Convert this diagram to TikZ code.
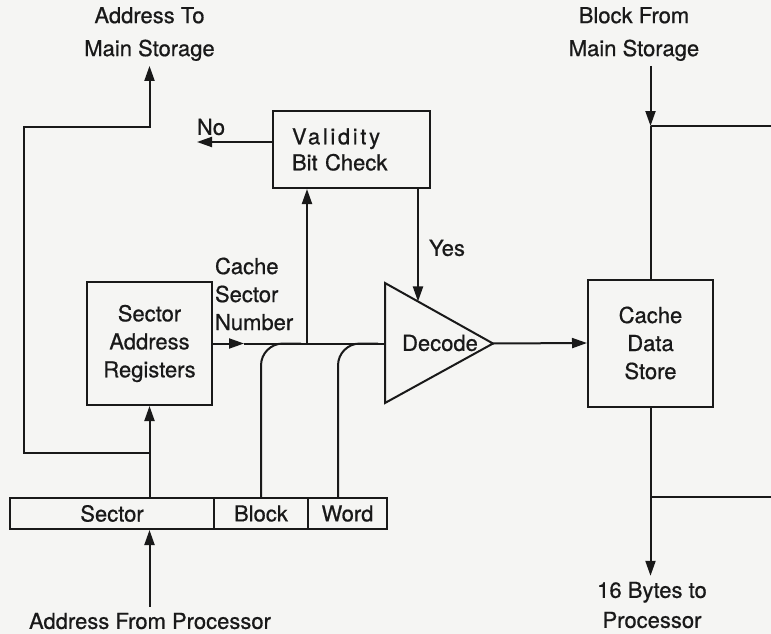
\documentclass[tikz,border=0pt]{standalone}
\usepackage{fontspec}
\setmainfont{TeX Gyre Heros}[FakeBold=0.7]
\usetikzlibrary{arrows.meta,calc}
\definecolor{paper}{RGB}{245,245,243}
\definecolor{ink}{RGB}{25,25,25}
\begin{document}
\begin{tikzpicture}[x=1pt,y=-1pt,line width=2pt,draw=ink,
  lab/.style={font=\fontsize{22}{28}\selectfont, inner sep=0pt, align=center, text=ink},
  blockbox/.style={lab, draw=ink, line width=2pt},
  arr/.style={-{Triangle[length=15pt,width=10pt]}}]
\fill[paper] (0,0) rectangle (771,634);
\useasboundingbox (0,0) rectangle (771,634);
% labels
\node[lab, font=\fontsize{22}{33}\selectfont] (addrTo) at (149.5,34) {Address To\\Main Storage};
\node[lab, font=\fontsize{22}{33}\selectfont] (blockFrom) at (634,34) {Block From\\Main Storage};
\node[lab] (no) at (211,127) {No};
\node[lab] (yes) at (447,248) {Yes};
\node[lab, align=left, anchor=west] (csn) at (214,294) {Cache\\Sector\\Number};
\node[lab] (addrFrom) at (150,621) {Address From Processor};
\node[lab, font=\fontsize{22}{30}\selectfont] (bytes) at (652,605) {16 Bytes to\\Processor};
% boxes
\node[blockbox, font=\fontsize{22}{26}\selectfont, minimum width=157pt, minimum height=77pt, text width=119pt, align=left] (valid) at (351.5,149.5) {{\addfontfeature{LetterSpace=12}Validity}\\Bit Check};
\node[blockbox, minimum width=125pt, minimum height=123pt] (sar) at (149.5,343.5) {Sector\\Address\\Registers};
\node[blockbox, minimum width=125pt, minimum height=127pt] (cds) at (650.5,343) {Cache\\Data\\Store};
\node[blockbox, minimum width=204pt, minimum height=31pt] (secF) at (112,513.5) {Sector};
\node[blockbox, minimum width=94pt, minimum height=31pt] (blkF) at (261,513.5) {Block};
\node[blockbox, minimum width=79pt, minimum height=31pt] (wrdF) at (347.5,513.5) {Word};
% decode triangle
\coordinate (decT) at (385,283);
\coordinate (decB) at (385,403);
\coordinate (decA) at (493,343.5);
\draw[line join=miter] (decT) -- (decA) -- (decB) -- cycle;
\node[lab] (dec) at (440,343) {Decode};
% connectors
\draw[arr] (secF.north -| sar.south) -- (sar.south);
\coordinate (lp1) at (149.5,453);
\coordinate (lp2) at (24,453);
\coordinate (lp3) at (24,127);
\draw[arr, shorten >=4pt] (lp1) -- (lp2) -- (lp3) -- (lp3 -| addrTo.south) -- (addrTo.south);
\coordinate (noEnd) at (197,142);
\draw[arr] (valid.west |- noEnd) -- (noEnd);
\coordinate (midArr) at (244,343.5);
\draw[arr] (sar.east) -- (midArr);
\draw (midArr) -- (sar.east -| decT);
\coordinate (vx) at (307,343.5);
\draw[arr] (vx) -- (vx |- valid.south);
\coordinate (yesEnd) at ($(decT)!0.3056!(decA)$);
\draw[arr] (yesEnd |- valid.south) -- (yesEnd);
\draw[rounded corners=22pt] (blkF.north) -- (blkF.north |- sar.east) -- ++(40,0);
\coordinate (wx) at (338,498);
\draw[rounded corners=22pt] (wx) -- (wx |- sar.east) -- ++(40,0);
\draw[arr] (decA) -- (cds.west);
\coordinate (bfArr) at (650.5,126);
\coordinate (rightA) at (771,126);
\draw[arr, shorten <=4pt] (blockFrom.south -| cds.north) -- (bfArr);
\draw (bfArr) -- (cds.north);
\draw (bfArr) -- (rightA);
\coordinate (rightB) at (771,497);
\draw (rightB -| cds.south) -- (rightB);
\draw[arr, shorten >=5pt] (cds.south) -- (bytes.north -| cds.south);
\draw[arr, shorten <=5pt] (addrFrom.north -| sar.south) -- (secF.south -| sar.south);
\end{tikzpicture}
\end{document}
